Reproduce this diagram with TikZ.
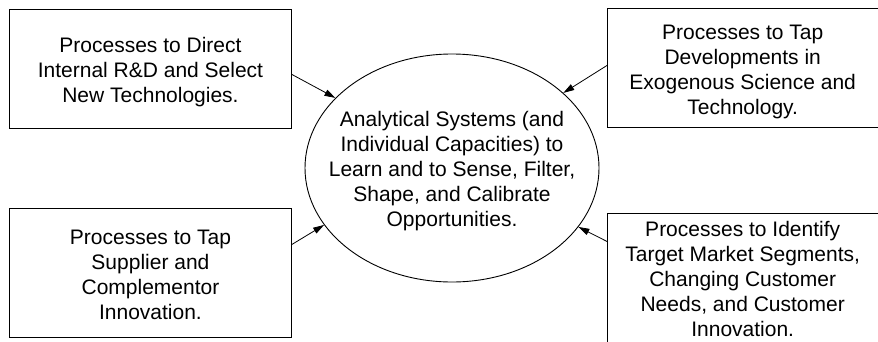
\documentclass[tikz,border=0pt]{standalone}
\usepackage{fontspec}
\setmainfont{Liberation Sans}
\usetikzlibrary{arrows.meta,shapes.geometric,calc}
\newcommand{\tallfirst}[1]{\rule{0pt}{#1}}
\begin{document}
\begin{tikzpicture}[x=1pt,y=-1pt,
  every node/.style={font=\fontsize{21}{25}\selectfont, align=center, inner sep=0pt},
  procbox/.style={draw, line width=0.9pt, rectangle, anchor=north west},
  centre/.style={draw, line width=0.9pt, ellipse},
  feed/.style={line width=0.8pt, -{Triangle[length=11pt,width=6.5pt]}}]
\useasboundingbox (0,0) rectangle (878,341);
\clip (0,0) rectangle (878,341);
\node[procbox, minimum width=282pt, minimum height=119pt] (b1) at (9,9)
  {\tallfirst{21.5pt}Processes to Direct\\Internal R\&D and Select\\New Technologies.};
\node[procbox, minimum width=270.5pt, minimum height=119pt] (b2) at (607,8)
  {\tallfirst{21.5pt}Processes to Tap\\Developments in\\Exogenous Science and\\Technology.};
\node[procbox, minimum width=282pt, minimum height=129pt] (b3) at (9,208)
  {\tallfirst{19pt}Processes to Tap\\Supplier and\\Complementor\\Innovation.};
\node[procbox, minimum width=270.5pt, minimum height=132pt] (b4) at (607,213)
  {Processes to Identify\\Target Market Segments,\\Changing Customer\\Needs, and Customer\\Innovation.};
\node[centre, minimum width=294pt, minimum height=228pt] (el) at (452,168) {};
\node (eltext) at ($(el.center)+(0,3)$)
  {Analytical Systems (and\\Individual Capacities) to\\Learn and to Sense, Filter,\\Shape, and Calibrate\\Opportunities.};
\draw[feed] ($(b1.east)+(0,5.5)$) -- (el.149.5);
\draw[feed] ($(b2.west)+(0,-2.5)$) -- (el.34.6);
\draw[feed] ($(b3.east)+(0,-28.5)$) -- (el.204.5);
\draw[feed] ($(b4.west)+(0,-38)$) -- (el.335.7);
\end{tikzpicture}
\end{document}
